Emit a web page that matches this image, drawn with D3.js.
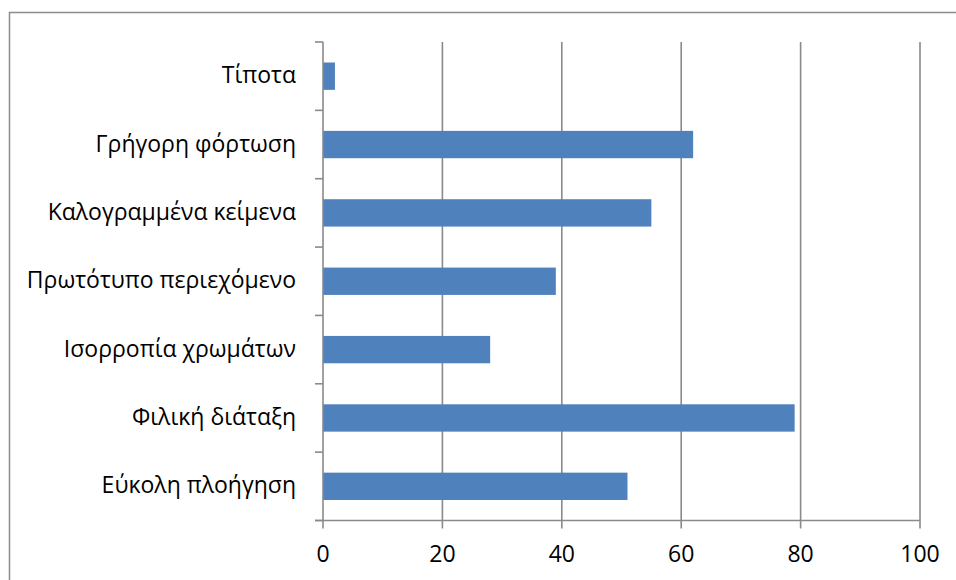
<!DOCTYPE html>
<html>
<head>
<meta charset="utf-8">
<script src="https://cdn.jsdelivr.net/npm/d3@7"></script>
<style>
  html, body { margin: 0; padding: 0; background: #fff; }
  svg { display: block; }
  text { font-family: "Open Sans", "Noto Sans", sans-serif; fill: #000; }
</style>
</head>
<body>
<svg id="chart" width="956" height="580"></svg>
<script>
// Survey answers, listed top to bottom
const categories = [
  "Τίποτα",
  "Γρήγορη φόρτωση",
  "Καλογραμμένα κείμενα",
  "Πρωτότυπο περιεχόμενο",
  "Ισορροπία χρωμάτων",
  "Φιλική διάταξη",
  "Εύκολη πλοήγηση"
];
const values = [2, 62, 55, 39, 28, 79, 51];
const xTicks = [0, 20, 40, 60, 80, 100];

const svg = d3.select("#chart");
const plot = { left: 323, right: 920, top: 42, bottom: 520.5 };
const gridColor = "#8a8a8a";

// outer chart frame (runs off the right and bottom edges)
svg.append("rect")
  .attr("x", 9.5).attr("y", 12.5)
  .attr("width", 1000).attr("height", 1000)
  .attr("fill", "none").attr("stroke", "#8c8c8c").attr("stroke-width", 1.5);

const x = d3.scaleLinear().domain([0, 100]).range([plot.left, plot.right]);
const y = d3.scaleBand().domain(categories)
  .range([plot.top, plot.bottom])
  .paddingInner(0.6).paddingOuter(0.3);

// vertical gridlines, extended below the axis as tick marks
svg.append("g").selectAll("line").data(xTicks.filter(d => d > 0)).join("line")
  .attr("x1", d => x(d)).attr("x2", d => x(d))
  .attr("y1", plot.top).attr("y2", plot.bottom + 8)
  .attr("stroke", gridColor).attr("stroke-width", 1.6);

// bars
svg.append("g").selectAll("rect").data(categories).join("rect")
  .attr("x", x(0))
  .attr("y", d => y(d))
  .attr("width", (d, i) => x(values[i]) - x(0))
  .attr("height", y.bandwidth())
  .attr("fill", "#4f81bd");

// category axis with tick marks at band boundaries
const step = y.step();
const boundaries = d3.range(categories.length + 1).map(i => plot.top + i * step);
const yAxis = svg.append("g");
yAxis.append("line")
  .attr("x1", x(0)).attr("x2", x(0))
  .attr("y1", plot.top).attr("y2", plot.bottom + 8)
  .attr("stroke", gridColor).attr("stroke-width", 1.6);
yAxis.selectAll("line.tick").data(boundaries).join("line")
  .attr("class", "tick")
  .attr("x1", x(0) - 8).attr("x2", x(0))
  .attr("y1", d => d).attr("y2", d => d)
  .attr("stroke", gridColor).attr("stroke-width", 1.6);
yAxis.selectAll("text").data(categories).join("text")
  .attr("x", x(0) - 27)
  .attr("y", d => y(d) + y.bandwidth() / 2 + 1)
  .attr("text-anchor", "end")
  .attr("dominant-baseline", "middle")
  .attr("font-size", 23)
  .text(d => d);

// value axis baseline and labels
svg.append("line")
  .attr("x1", x(0) - 8).attr("x2", plot.right)
  .attr("y1", plot.bottom).attr("y2", plot.bottom)
  .attr("stroke", gridColor).attr("stroke-width", 1.6);
svg.append("g").selectAll("text").data(xTicks).join("text")
  .attr("x", d => x(d))
  .attr("y", 556)
  .attr("text-anchor", "middle")
  .attr("dominant-baseline", "middle")
  .attr("font-size", 23)
  .text(d => d);
</script>
</body>
</html>
